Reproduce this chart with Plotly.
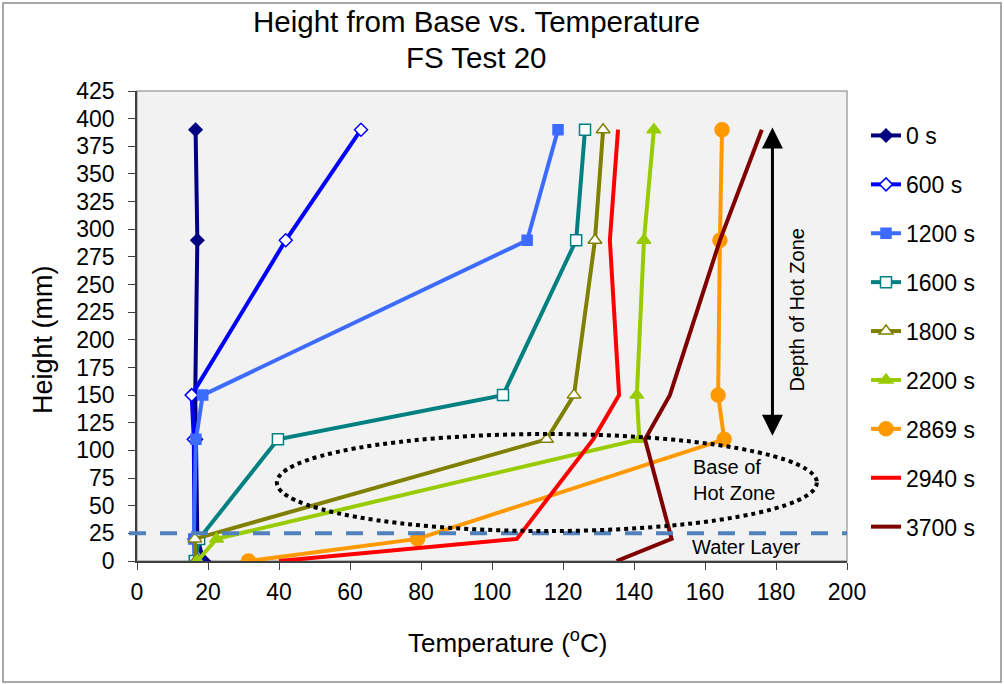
import plotly.graph_objects as go

heights = [0, 20, 110, 150, 290, 390]
series_names = ["0 s", "600 s", "1200 s", "1600 s", "1800 s", "2200 s", "2869 s", "2940 s", "3700 s"]
t_0 = [18.8, 17.0, 16.6, 16.4, 17.0, 16.5]
t_600 = [17.0, 16.2, 16.0, 15.4, 41.9, 63.1]
t_1200 = [16.2, 16.0, 16.6, 18.5, 109.9, 118.6]
t_1600 = [16.3, 17.5, 39.7, 103.1, 123.7, 126.2]
t_1800 = [16.5, 16.3, 115.4, 123.1, 129.0, 131.3]
t_2200 = [17.0, 22.4, 141.5, 140.8, 142.8, 145.6]
t_2869 = [31.4, 79.0, 165.4, 163.7, 164.2, 164.8]
t_2940 = [40.0, 107.0, 128.5, 135.8, 133.2, 135.5]
t_3700 = [135.1, 150.6, 143.1, 150.1, 164.2, 176.0]

x_ticks = list(range(0, 201, 20))
y_ticks = list(range(0, 426, 25))

FONT = "Liberation Sans, Arial, sans-serif"

styles = [
    dict(color="#000080", symbol="diamond", fill="#000080", size=10),
    dict(color="#0000FF", symbol="diamond", fill="#FFFFFF", size=10),
    dict(color="#3D6BFF", symbol="square", fill="#3D6BFF", size=10),
    dict(color="#008080", symbol="square", fill="#FFFFFF", size=11),
    dict(color="#808000", symbol="triangle-up", fill="#FFFFFF", size=12),
    dict(color="#99CC00", symbol="triangle-up", fill="#99CC00", size=12),
    dict(color="#FF9900", symbol="circle", fill="#FF9900", size=14),
    dict(color="#FF0000", symbol=None, fill=None, size=0),
    dict(color="#800000", symbol=None, fill=None, size=0),
]
data = [t_0, t_600, t_1200, t_1600, t_1800, t_2200, t_2869, t_2940, t_3700]

fig = go.Figure()
for i, (name, temps, st) in enumerate(zip(series_names, data, styles)):
    if st["symbol"]:
        mode = "lines+markers"
        marker = dict(symbol=st["symbol"], color=st["fill"], size=st["size"],
                      line=dict(color=st["color"], width=1.5))
    else:
        mode = "lines"
        marker = None
    fig.add_trace(go.Scatter(x=temps, y=heights, name=name, mode=mode,
                             line=dict(color=st["color"], width=4),
                             marker=marker, legendgroup="g%d" % i))

# plot area geometry (px)
L, R, T, B = 137, 847, 91, 561
W, H = 1004, 684
pw, ph = R - L, B - T

def px_x(px):
    return (px - L) / pw

def px_y(py):
    return (B - py) / ph

shapes = [
    dict(type="rect", xref="paper", yref="paper", x0=px_x(3), x1=px_x(1001), y0=px_y(3), y1=px_y(682),
         line=dict(color="#8C8C8C", width=1.5), layer="below"),
    dict(type="rect", xref="paper", yref="paper", x0=0, x1=1, y0=0, y1=1,
         line=dict(color="#A6A6A6", width=1.5), layer="below"),
    dict(type="line", xref="paper", yref="y", x0=px_x(129), x1=1, y0=25, y1=25,
         line=dict(color="#4F81BD", width=4, dash="17px,14px"), layer="above"),
    dict(type="circle", xref="x", yref="y", x0=39.4, x1=191.5, y0=27.1, y1=114.8,
         line=dict(color="#000000", width=4, dash="dot"), layer="above"),
]

annotations = [
    dict(x=px_x(476), y=px_y(22), xref="paper", yref="paper", text="Height from Base vs. Temperature",
         xanchor="center", yanchor="middle", showarrow=False,
         font=dict(size=29.5, color="#000000", family=FONT)),
    dict(x=px_x(476), y=px_y(57), xref="paper", yref="paper", text="FS Test 20",
         xanchor="center", yanchor="middle", showarrow=False,
         font=dict(size=29.5, color="#000000", family=FONT)),
    dict(x=179, y=392, ax=179, ay=112, xref="x", yref="y", axref="x", ayref="y",
         showarrow=True, arrowhead=2, arrowside="end+start", arrowwidth=3,
         arrowsize=1.4, arrowcolor="#000000", text=""),
    dict(x=185.8, y=227, xref="x", yref="y", text="Depth of Hot Zone", textangle=-90,
         showarrow=False, font=dict(size=20, color="#000000", family=FONT)),
    dict(x=156.0, y=73, xref="x", yref="y", text="Base of<br>Hot Zone", align="left",
         xanchor="left", showarrow=False, font=dict(size=20, color="#000000", family=FONT)),
    dict(x=155.8, y=12.7, xref="x", yref="y", text="Water Layer", xanchor="left",
         showarrow=False, font=dict(size=20, color="#000000", family=FONT)),
    dict(x=px_x(43), y=px_y(340), xref="paper", yref="paper", text="Height (mm)", textangle=-90,
         xanchor="center", yanchor="middle",
         showarrow=False, font=dict(size=27, color="#000000", family=FONT)),
    dict(x=px_x(507), y=px_y(641), xref="paper", yref="paper", text="Temperature (<sup>o</sup>C)",
         xanchor="center", yanchor="middle",
         showarrow=False, font=dict(size=26, color="#000000", family=FONT)),
]

fig.update_layout(
    width=W, height=H,
    margin=dict(l=L, r=W - R, t=T, b=H - B),
    paper_bgcolor="#FFFFFF", plot_bgcolor="#F2F2F2",
    font=dict(family=FONT, color="#000000", size=22),
    xaxis=dict(range=[0, 200], tickvals=x_ticks, ticks="outside", ticklen=7, tickcolor="#404040",
               showgrid=False, zeroline=False, showline=True, linecolor="#404040", linewidth=1.5,
               ticklabelstandoff=3,
               tickfont=dict(size=23, family=FONT, color="#000000")),
    yaxis=dict(range=[0, 425], tickvals=y_ticks, ticks="outside", ticklen=7, tickcolor="#404040",
               showgrid=False, zeroline=False, showline=True, linecolor="#404040", linewidth=1.5,
               ticklabelstandoff=9,
               tickfont=dict(size=23, family=FONT, color="#000000")),
    legend=dict(x=px_x(866), y=px_y(114), xanchor="left", yanchor="top", tracegroupgap=16,
                font=dict(size=23, family=FONT, color="#000000"), bgcolor="rgba(0,0,0,0)",
                itemwidth=30),
    shapes=shapes,
    annotations=annotations,
    showlegend=True,
)

fig.write_html("out.html")
